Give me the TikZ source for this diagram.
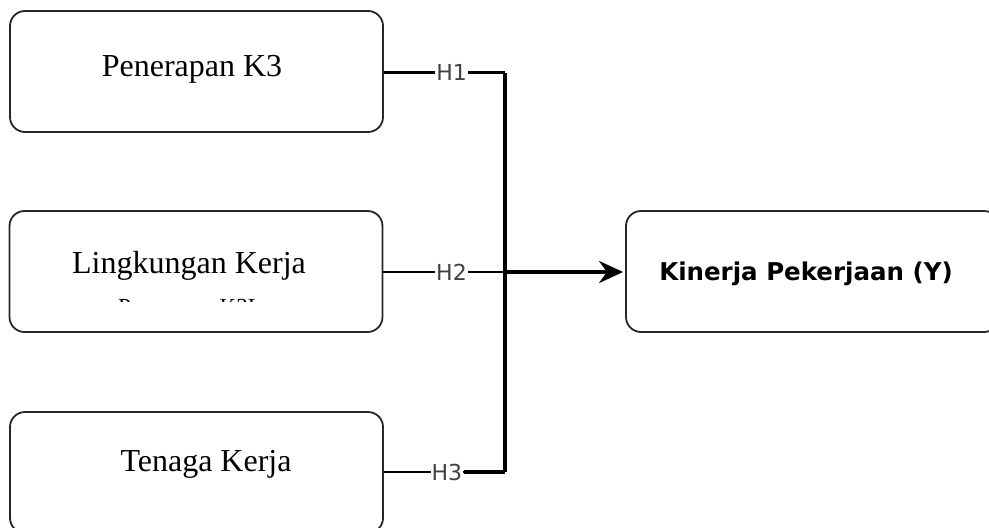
\documentclass[tikz,border=0pt]{standalone}
\usepackage{fontspec}
\setmainfont{Liberation Serif}
\newfontfamily\dejavu{DejaVu Sans}
\usetikzlibrary{arrows.meta}
\definecolor{lblgray}{HTML}{404040}

\begin{document}
\begin{tikzpicture}[x=1pt, y=-1pt,
	box/.style={draw=black!85, line width=1.8pt, rounded corners=15pt, minimum width=373pt, minimum height=121pt, inner sep=0pt},
	serif/.style={font=\fontsize{32}{36}\selectfont, inner sep=0pt, anchor=base},
	lbl/.style={font=\dejavu\fontsize{22}{22}\selectfont, text=lblgray, fill=white, inner sep=1pt},
	thinline/.style={line width=2.5pt},
	thickline/.style={line width=3.8pt}]

	\useasboundingbox (0,0) rectangle (989,528);
	\clip (0,0) rectangle (989,528);

	\node[box] (k3) at (196.5,71.5) {};
	\node[box] (lk) at (196,271.5) {};
	\node[box] (tk) at (196.5,472.5) {};
	\node[box] (kin) at (812.5,271.5) {};

	\node[serif] (k3-txt) at (192,76) {Penerapan K3};
	\node[serif] (lk-txt) at (189,273) {Lingkungan Kerja};
	\node[serif] (tk-txt) at (206,471) {Tenaga Kerja};
	\node[font=\dejavu\bfseries\fontsize{24.5}{24}\selectfont, inner sep=0pt, anchor=base] (kin-txt) at (806,280) {Kinerja Pekerjaan (Y)};

	% second line of the middle box, cut off
	\begin{scope}
		\clip (100,290) rectangle (300,301);
		\node[font=\fontsize{23}{23}\selectfont, inner sep=0pt, anchor=base west] (k3l) at (118,314) {Penerapan K3L};
	\end{scope}

	\coordinate (j1) at (505,72.5);
	\coordinate (j2) at (505,272);
	\coordinate (j3) at (505,472);

	\draw[thickline] (j1) -- (j3);
	\draw[thinline] (k3.east |- j1) -- (j1) node[lbl, pos=0.56] (h1) {H1};
	\draw[thickline] (h1.east) -- (j1);
	\draw[thinline] (lk.east |- j2) -- (j2) node[lbl, pos=0.56] (h2) {H2};
	\draw[thickline, -{Stealth[length=24pt, width=22pt]}, shorten >=2pt] (j2) -- (kin.west |- j2);
	\draw[thinline] (tk.east |- j3) -- (j3) node[lbl, pos=0.52] (h3) {H3};
	\draw[thickline] (h3.east) -- (j3);

\end{tikzpicture}
\end{document}
